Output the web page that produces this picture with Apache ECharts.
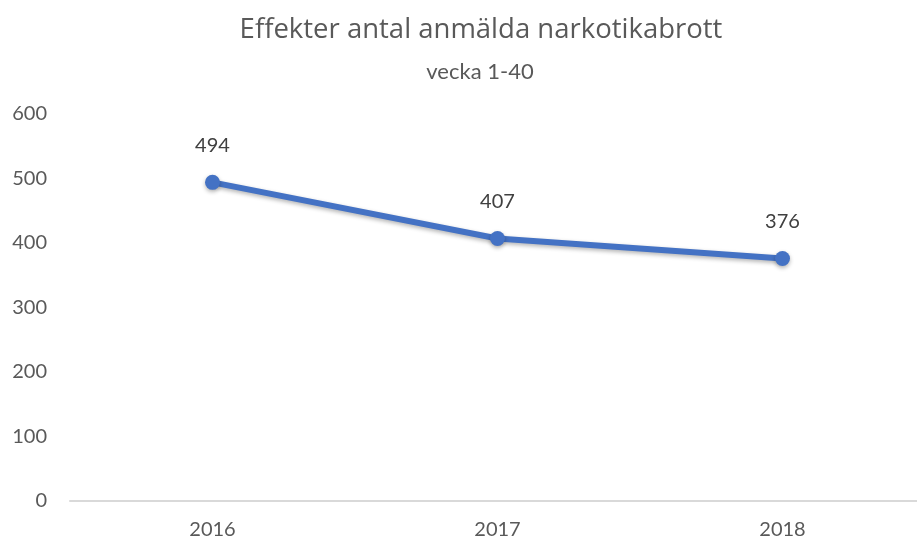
<!DOCTYPE html>
<html><head><meta charset="utf-8">
<script src="https://cdn.jsdelivr.net/npm/echarts@6/dist/echarts.min.js"></script>
<style>html,body{margin:0;padding:0;background:#fff;overflow:hidden}#c{width:925px;height:542px}</style>
</head><body><div id="c"></div>
<script>
const titleText = "Effekter antal anmälda narkotikabrott";
const subtitleText = "vecka 1-40";
const categories = ["2016", "2017", "2018"];
const values = [494, 407, 376];
const yTicks = [0, 100, 200, 300, 400, 500, 600];

const chart = echarts.init(document.getElementById('c'));
const font = 'Lato, "Open Sans", sans-serif';
chart.setOption({
  animation: false,
  title: [
    {text: titleText, left: 476, top: 11, textAlign: 'center',
     textStyle: {fontFamily: '"Open Sans", sans-serif', fontSize: 27.5, fontWeight: 'normal', color: '#595959'}},
    {text: subtitleText, left: 475, top: 56, textAlign: 'center',
     textStyle: {fontFamily: font, fontSize: 22, fontWeight: 'normal', color: '#595959'}}
  ],
  grid: {left: 70, right: 0, top: 114, bottom: 41, containLabel: false},
  xAxis: {
    type: 'category', data: categories, boundaryGap: true,
    axisLine: {lineStyle: {color: '#d9d9d9', width: 2}},
    axisTick: {show: false},
    axisLabel: {fontFamily: font, fontSize: 20, color: '#595959', margin: 19}
  },
  yAxis: {
    type: 'value', min: yTicks[0], max: yTicks[yTicks.length-1], interval: 100,
    axisLine: {show: false}, axisTick: {show: false}, splitLine: {show: false},
    axisLabel: {fontFamily: font, fontSize: 20, color: '#595959', margin: 23}
  },
  series: [{
    type: 'line', data: values,
    symbol: 'circle', symbolSize: 15,
    lineStyle: {color: '#4472C4', width: 6, shadowColor: 'rgba(0,0,0,0.3)', shadowBlur: 4, shadowOffsetY: 2},
    itemStyle: {color: '#4472C4', shadowColor: 'rgba(0,0,0,0.3)', shadowBlur: 4, shadowOffsetY: 2},
    label: {show: true, position: 'top', distance: 19, fontFamily: font, fontSize: 20, color: '#404040'}
  }]
});
</script></body></html>
